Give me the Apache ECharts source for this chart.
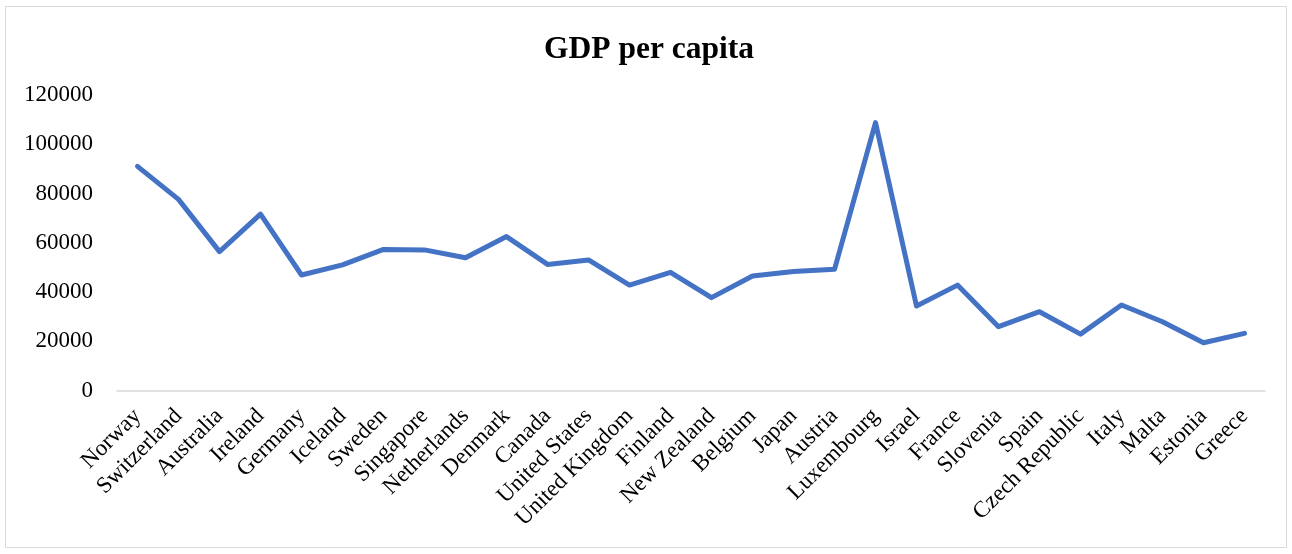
<!DOCTYPE html>
<html>
<head>
<meta charset="utf-8">
<script src="https://cdn.jsdelivr.net/npm/echarts@6/dist/echarts.min.js"></script>
<style>
html,body{margin:0;padding:0;background:#fff;}
#chart{width:1292px;height:554px;}
</style>
</head>
<body>
<div id="chart"></div>
<script>
const categories = ["Norway","Switzerland","Australia","Ireland","Germany","Iceland","Sweden","Singapore","Netherlands","Denmark","Canada","United States","United Kingdom","Finland","New Zealand","Belgium","Japan","Austria","Luxembourg","Israel","France","Slovenia","Spain","Czech Republic","Italy","Malta","Estonia","Greece"];
const gdpPerCapita = [91000,77600,56400,71600,46900,51000,57300,57100,53900,62500,51200,53000,42800,48000,37700,46500,48300,49200,108800,34300,42800,25900,32000,22900,34700,27900,19400,23200];
const yTicks = [0,20000,40000,60000,80000,100000,120000];

const font = '"Liberation Serif", "Times New Roman", serif';
const chart = echarts.init(document.getElementById('chart'));
chart.setOption({
  animation: false,
  backgroundColor: '#fff',
  graphic: [{
    type: 'rect',
    shape: {x: 5.5, y: 6.5, width: 1281, height: 541},
    style: {fill: 'none', stroke: '#d9d9d9', lineWidth: 1}
  }],
  title: {
    text: 'GDP per capita',
    left: 644,
    textAlign: 'center',
    top: 29,
    textStyle: {fontFamily: font, fontWeight: 'bold', fontSize: 31.5, color: '#000'}
  },
  grid: {left: 117, right: 27, top: 95, bottom: 163.5, containLabel: false},
  xAxis: {
    type: 'category',
    data: categories,
    boundaryGap: true,
    axisLine: {show: true, lineStyle: {color: '#d9d9d9', width: 1.5}},
    axisTick: {show: false},
    axisLabel: {
      rotate: 45,
      interval: 0,
      margin: 22,
      fontFamily: font,
      fontSize: 23,
      color: '#000'
    },
    splitLine: {show: false}
  },
  yAxis: {
    type: 'value',
    min: yTicks[0],
    max: yTicks[yTicks.length - 1],
    interval: yTicks[1] - yTicks[0],
    axisLine: {show: false},
    axisTick: {show: false},
    splitLine: {show: false},
    axisLabel: {
      margin: 24,
      fontFamily: font,
      fontSize: 23,
      color: '#000',
      formatter: v => String(v)
    }
  },
  series: [{
    type: 'line',
    data: gdpPerCapita,
    symbol: 'none',
    lineStyle: {color: '#4472C4', width: 5, cap: 'round', join: 'round'},
    itemStyle: {color: '#4472C4'}
  }]
});
</script>
</body>
</html>
